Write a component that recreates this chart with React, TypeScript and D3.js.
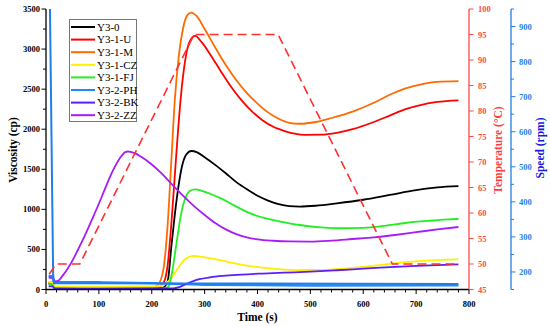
import * as React from 'react'
import * as d3 from 'd3'

type Pt = [number, number]

// viscosity (cp) vs time (s)
const y3_0: Pt[] = [[5, 70], [12, 65], [17, 20], [100, 15], [220, 20], [230, 100], [237, 530], [247, 1117], [256, 1500], [265, 1680], [275, 1728], [285, 1715], [300, 1650], [320, 1555], [340, 1450], [360, 1340], [380, 1250], [400, 1170], [420, 1110], [440, 1065], [460, 1040], [480, 1035], [510, 1045], [550, 1075], [600, 1120], [650, 1180], [700, 1240], [740, 1275], [780, 1290]]
const y3_1U: Pt[] = [[5, 90], [12, 85], [17, 30], [100, 25], [210, 30], [222, 80], [230, 300], [238, 900], [247, 1740], [255, 2400], [263, 2850], [272, 3100], [282, 3165], [295, 3080], [310, 2940], [330, 2730], [350, 2530], [370, 2360], [390, 2220], [410, 2110], [430, 2030], [450, 1980], [470, 1945], [490, 1930], [520, 1932], [550, 1955], [580, 2000], [620, 2090], [650, 2170], [680, 2250], [710, 2305], [740, 2340], [780, 2360]]
const y3_1M: Pt[] = [[5, 80], [12, 75], [17, 25], [100, 20], [200, 25], [212, 60], [222, 250], [230, 800], [237, 1600], [244, 2400], [251, 2900], [259, 3250], [267, 3420], [275, 3455], [285, 3410], [300, 3250], [320, 3020], [340, 2800], [360, 2610], [380, 2450], [400, 2320], [420, 2210], [440, 2130], [460, 2080], [480, 2068], [510, 2090], [540, 2140], [580, 2220], [620, 2330], [650, 2430], [680, 2510], [710, 2560], [740, 2590], [780, 2600]]
const y3_1CZ: Pt[] = [[5, 95], [12, 90], [17, 40], [100, 35], [200, 38], [220, 50], [230, 95], [240, 170], [250, 270], [260, 360], [270, 405], [280, 418], [295, 408], [320, 380], [350, 335], [380, 298], [410, 272], [440, 255], [480, 243], [520, 244], [560, 258], [600, 282], [640, 310], [680, 340], [720, 360], [760, 373], [780, 377]]
const y3_1FJ: Pt[] = [[5, 60], [12, 55], [17, 15], [100, 10], [225, 15], [232, 40], [238, 200], [244, 450], [250, 720], [256, 960], [264, 1150], [272, 1230], [282, 1250], [295, 1230], [310, 1195], [330, 1140], [350, 1070], [370, 1000], [390, 940], [420, 880], [450, 840], [480, 805], [520, 775], [560, 764], [600, 770], [640, 795], [680, 830], [720, 855], [760, 875], [780, 880]]
const y3_2PH: Pt[] = [[5, 170], [12, 165], [15, 95], [100, 90], [200, 80], [300, 60], [500, 50], [780, 52]]
const y3_2BK: Pt[] = [[5, 40], [12, 38], [17, 10], [100, 8], [240, 15], [252, 30], [262, 60], [275, 95], [290, 128], [310, 152], [340, 172], [370, 186], [410, 199], [450, 210], [500, 222], [550, 240], [600, 260], [650, 280], [700, 295], [740, 305], [780, 314]]
const y3_2ZZ: Pt[] = [[5, 150], [12, 145], [18, 100], [24, 112], [30, 160], [40, 250], [50, 360], [60, 490], [70, 625], [80, 770], [90, 920], [100, 1070], [110, 1230], [120, 1390], [130, 1530], [140, 1640], [150, 1715], [155, 1722], [160, 1718], [170, 1695], [180, 1655], [200, 1560], [220, 1440], [240, 1300], [260, 1165], [280, 1040], [300, 930], [320, 830], [340, 750], [360, 690], [380, 650], [400, 625], [430, 608], [460, 600], [500, 598], [540, 610], [580, 630], [620, 650], [660, 680], [700, 715], [740, 750], [780, 780]]

const seriesNames = ['Y3-0', 'Y3-1-U', 'Y3-1-M', 'Y3-1-CZ', 'Y3-1-FJ', 'Y3-2-PH', 'Y3-2-BK', 'Y3-2-ZZ']
const seriesData = [y3_0, y3_1U, y3_1M, y3_1CZ, y3_1FJ, y3_2PH, y3_2BK, y3_2ZZ]
const seriesColors = ['#000000', '#ff0000', '#ff6a00', '#ffee00', '#22ee22', '#1e88ff', '#5a1eff', '#a81cf5']

// temperature (°C) and speed (rpm) vs time (s)
const temperature: Pt[] = [[6, 48], [19, 50], [64, 50], [280, 95], [439, 95], [655, 50], [780, 50]]
const speed: Pt[] = [[7.5, 950], [13.5, 195], [15, 168], [780, 166]]

const timeTicks = [0, 100, 200, 300, 400, 500, 600, 700, 800]
const viscTicks = [0, 500, 1000, 1500, 2000, 2500, 3000, 3500]
const tempTicks = [45, 50, 55, 60, 65, 70, 75, 80, 85, 90, 95, 100]
const speedTicks = [200, 300, 400, 500, 600, 700, 800, 900]

const W = 550
const H = 326
const FONT = '"Liberation Serif", "Times New Roman", serif'
const TEMP_COLOR = '#ff4a4a'
const SPEED_COLOR = '#1f7fe6'

export default function App() {
  const svgRef = React.useRef<SVGSVGElement>(null)

  React.useEffect(() => {
    if (!svgRef.current) return
    const svg = d3.select(svgRef.current)
    svg.selectAll('*').remove()

    const left = 46
    const right = 469
    const top = 9
    const bottom = 289.5

    const x = d3.scaleLinear().domain([0, 800]).range([left, right])
    const y = d3.scaleLinear().domain([0, 3500]).range([bottom, top])
    const yT = d3.scaleLinear().domain([45, 100]).range([bottom, top])
    const yS = d3.scaleLinear().domain([150, 950]).range([bottom, top])

    svg.append('defs').append('clipPath').attr('id', 'plot-clip')
      .append('rect').attr('x', left).attr('y', 0).attr('width', right - left).attr('height', bottom)

    const plot = svg.append('g').attr('clip-path', 'url(#plot-clip)')

    const smooth = d3.line<Pt>().x((d) => x(d[0])).y((d) => y(d[1])).curve(d3.curveMonotoneX)

    // viscosity curves
    seriesData.forEach((data, i) => {
      plot.append('path')
        .datum(data)
        .attr('d', smooth)
        .attr('fill', 'none')
        .attr('stroke', seriesColors[i])
        .attr('stroke-width', i === 5 ? 2.4 : 1.8)
    })

    // speed
    plot.append('path')
      .datum(speed)
      .attr('d', d3.line<Pt>().x((d) => x(d[0])).y((d) => yS(d[1])))
      .attr('fill', 'none')
      .attr('stroke', SPEED_COLOR)
      .attr('stroke-width', 2)

    // temperature
    plot.append('path')
      .datum(temperature)
      .attr('d', d3.line<Pt>().x((d) => x(d[0])).y((d) => yT(d[1])))
      .attr('fill', 'none')
      .attr('stroke', '#ff3030')
      .attr('stroke-width', 1.6)
      .attr('stroke-dasharray', '9,5')

    // bottom axis
    const gx = svg.append('g')
    gx.append('line').attr('x1', left).attr('x2', right).attr('y1', bottom).attr('y2', bottom).attr('stroke', '#000').attr('stroke-width', 1.3)
    d3.range(0, 801, 20).forEach((t) => {
      const major = t % 100 === 0
      gx.append('line').attr('x1', x(t)).attr('x2', x(t)).attr('y1', bottom).attr('y2', bottom + (major ? 4.5 : 3)).attr('stroke', '#000').attr('stroke-width', 1)
    })
    timeTicks.forEach((t) => {
      gx.append('text').attr('x', x(t)).attr('y', 307).attr('text-anchor', 'middle')
        .attr('font-family', FONT).attr('font-weight', 'bold').attr('font-size', '8.5px').text(t)
    })
    gx.append('text').attr('x', (left + right) / 2).attr('y', 321).attr('text-anchor', 'middle')
      .attr('font-family', FONT).attr('font-weight', 'bold').attr('font-size', '11.5px').text('Time (s)')

    // left axis
    const gy = svg.append('g')
    gy.append('line').attr('x1', left).attr('x2', left).attr('y1', top).attr('y2', bottom).attr('stroke', '#000').attr('stroke-width', 1.3)
    d3.range(0, 3501, 250).forEach((v) => {
      const major = v % 500 === 0
      gy.append('line').attr('x1', left).attr('x2', left - (major ? 4.5 : 3)).attr('y1', y(v)).attr('y2', y(v)).attr('stroke', '#000').attr('stroke-width', 1)
    })
    viscTicks.forEach((v) => {
      gy.append('text').attr('x', 40).attr('y', y(v) + 3).attr('text-anchor', 'end')
        .attr('font-family', FONT).attr('font-weight', 'bold').attr('font-size', '8.5px').text(v)
    })
    gy.append('text').attr('transform', `translate(17,150) rotate(-90)`).attr('text-anchor', 'middle')
      .attr('font-family', FONT).attr('font-weight', 'bold').attr('font-size', '11.5px').text('Viscosity (cp)')

    // temperature axis
    const gt = svg.append('g')
    gt.append('line').attr('x1', right).attr('x2', right).attr('y1', top).attr('y2', bottom).attr('stroke', TEMP_COLOR).attr('stroke-width', 1.3)
    tempTicks.forEach((v) => {
      gt.append('line').attr('x1', right).attr('x2', right + 4.5).attr('y1', yT(v)).attr('y2', yT(v)).attr('stroke', TEMP_COLOR).attr('stroke-width', 1)
      gt.append('text').attr('x', 478).attr('y', yT(v) + 3)
        .attr('fill', TEMP_COLOR).attr('font-family', FONT).attr('font-weight', 'bold').attr('font-size', '8.5px').text(v)
    })
    gt.append('text').attr('transform', `translate(502,150) rotate(-90)`).attr('text-anchor', 'middle')
      .attr('fill', '#ff3b3b').attr('font-family', FONT).attr('font-weight', 'bold').attr('font-size', '11.5px').text('Temperature (°C)')

    // speed axis
    const sx = 511
    const gs = svg.append('g')
    gs.append('line').attr('x1', sx).attr('x2', sx).attr('y1', top).attr('y2', bottom).attr('stroke', SPEED_COLOR).attr('stroke-width', 1.3)
    d3.range(150, 951, 50).forEach((v) => {
      const major = v % 100 === 0
      gs.append('line').attr('x1', sx).attr('x2', sx + (major ? 4.5 : 3)).attr('y1', yS(v)).attr('y2', yS(v)).attr('stroke', SPEED_COLOR).attr('stroke-width', 1)
    })
    speedTicks.forEach((v) => {
      gs.append('text').attr('x', 519).attr('y', yS(v) + 3)
        .attr('fill', SPEED_COLOR).attr('font-family', FONT).attr('font-weight', 'bold').attr('font-size', '8.5px').text(v)
    })
    gs.append('text').attr('transform', `translate(544,148) rotate(-90)`).attr('text-anchor', 'middle')
      .attr('fill', '#1a1ae0').attr('font-family', FONT).attr('font-weight', 'bold').attr('font-size', '11.5px').text('Speed (rpm)')

    // legend
    const lg = svg.append('g')
    lg.append('rect').attr('x', 69.5).attr('y', 19.5).attr('width', 67).attr('height', 102)
      .attr('fill', '#fff').attr('stroke', '#777').attr('stroke-width', 1)
    seriesNames.forEach((name, i) => {
      const ly = 27 + i * 12.6
      lg.append('line').attr('x1', 71).attr('x2', 95).attr('y1', ly).attr('y2', ly)
        .attr('stroke', seriesColors[i]).attr('stroke-width', 2)
      lg.append('text').attr('x', 97).attr('y', ly + 3.8)
        .attr('font-family', FONT).attr('font-size', '11px').text(name)
    })
  }, [])

  return (
    <>
      <style>{'body{margin:0}'}</style>
      <svg ref={svgRef} width={W} height={H} style={{ display: 'block', background: '#fff' }} />
    </>
  )
}
